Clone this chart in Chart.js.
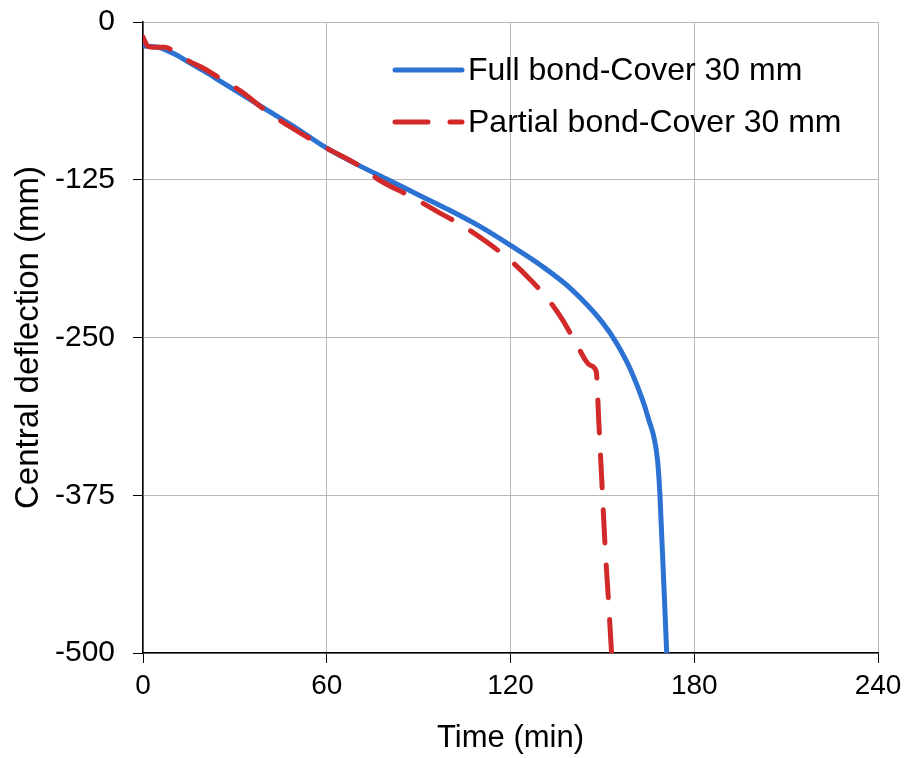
<!DOCTYPE html>
<html>
<head>
<meta charset="utf-8">
<script src="https://cdn.jsdelivr.net/npm/chart.js@4.4.1/dist/chart.umd.min.js"></script>
<style>
  html, body { margin: 0; padding: 0; background: #fff; }
  #wrap { width: 911px; height: 758px; position: relative; }
</style>
</head>
<body>
<div id="wrap"><canvas id="grafico"></canvas></div>
<script>
// Full bond - Cover 30 mm
const tempoFull = [0, 5, 10, 15, 20, 26, 30, 40, 50, 60, 70, 80, 90, 100, 110, 120, 130, 140, 150, 155, 160, 165, 168, 168.8, 171];
const deflFull  = [-19, -20, -25, -32, -39, -48, -54, -69, -84, -100, -113, -125, -137, -149, -162, -177, -193, -212, -238, -256, -280, -314, -347, -375, -500];

// Partial bond - Cover 30 mm
const tempoPartial = [0, 1.5, 3, 7, 10, 15, 20, 26, 32, 40, 48, 60, 70, 77, 88, 96, 104, 112, 120, 126, 132, 137, 141.7, 146, 148, 148.8, 149.8, 150.9, 151.9, 153];
const deflPartial  = [-12, -19, -20, -20, -23, -31, -37, -46, -55, -70, -83, -100, -113, -125, -139, -150, -161, -174, -189, -203, -219, -236, -256, -272, -277, -315, -363, -416, -455, -500];

const nomes = ['Full bond-Cover 30 mm', 'Partial bond-Cover 30 mm'];
const ticksX = [0, 60, 120, 180, 240];
const ticksY = [-500, -375, -250, -125, 0];

const AZUL = '#2b72d2';
const VERMELHO = '#d22a2a';

const pares = (xs, ys) => xs.map((x, i) => ({ x: x, y: ys[i] }));

// legenda desenhada dentro da área do gráfico
const legendaInterna = {
    id: 'legendaInterna',
    afterDraw(chart) {
        const ctx = chart.ctx;
        const itens = [
            { cor: AZUL, dash: [], y: 70 },
            { cor: VERMELHO, dash: [33, 22], y: 122 }
        ];
        ctx.save();
        ctx.font = '32px "Liberation Sans", Arial, sans-serif';
        ctx.textBaseline = 'middle';
        itens.forEach((it, i) => {
            ctx.beginPath();
            ctx.strokeStyle = it.cor;
            ctx.lineWidth = 5;
            ctx.lineCap = 'round';
            ctx.setLineDash(it.dash);
            ctx.moveTo(395, it.y);
            ctx.lineTo(462, it.y);
            ctx.stroke();
            ctx.setLineDash([]);
            ctx.fillStyle = '#000';
            ctx.fillText(nomes[i], 468, it.y + 1);
        });
        ctx.restore();
    }
};

// tira o espaço extra que o Chart.js reserva para meia etiqueta
const semPadding = (s) => { s.paddingTop = 0; s.paddingBottom = 0; s.paddingLeft = 0; s.paddingRight = 0; };

Chart.defaults.color = '#000';
Chart.defaults.font.family = '"Liberation Sans", Arial, sans-serif';

const ctx = document.getElementById('grafico').getContext('2d');
new Chart(ctx, {
    type: 'scatter',
    data: {
        datasets: [{
            label: nomes[0],
            data: pares(tempoFull, deflFull),
            showLine: true,
            borderColor: AZUL,
            borderWidth: 5,
            pointRadius: 0,
            cubicInterpolationMode: 'monotone',
            order: 1
        }, {
            label: nomes[1],
            data: pares(tempoPartial, deflPartial),
            showLine: true,
            borderColor: VERMELHO,
            borderWidth: 5,
            borderDash: [33, 22],
            borderCapStyle: 'round',
            pointRadius: 0,
            cubicInterpolationMode: 'monotone',
            order: 0
        }]
    },
    options: {
        responsive: true,
        maintainAspectRatio: false,
        animation: false,
        layout: { padding: { left: 0, right: 33, top: 22, bottom: 0 } },
        plugins: {
            legend: { display: false },
            tooltip: { enabled: false }
        },
        scales: {
            x: {
                type: 'linear',
                min: 0,
                max: 240,
                afterBuildTicks: (s) => { s.ticks = ticksX.map(v => ({ value: v })); },
                afterFit: (s) => { s.height = 105; semPadding(s); },
                ticks: { font: { size: 28 }, padding: 6 },
                grid: { color: '#b9b9b9', tickColor: '#000', tickLength: 10, lineWidth: 1 },
                border: { color: '#000', width: 1.5 },
                title: { display: true, text: 'Time (min)', font: { size: 31 }, padding: { top: 0, bottom: 1 } }
            },
            y: {
                type: 'linear',
                min: -500,
                max: 0,
                afterBuildTicks: (s) => { s.ticks = ticksY.map(v => ({ value: v })); },
                afterFit: (s) => { s.width = 143; semPadding(s); },
                ticks: { font: { size: 30 }, padding: 18 },
                grid: { color: '#b9b9b9', tickColor: '#000', tickLength: 10, lineWidth: 1 },
                border: { color: '#000', width: 1.5 },
                title: { display: true, text: 'Central deflection (mm)', font: { size: 33 }, padding: { top: 9, bottom: 0 } }
            }
        }
    },
    plugins: [legendaInterna]
});
</script>
</body>
</html>
